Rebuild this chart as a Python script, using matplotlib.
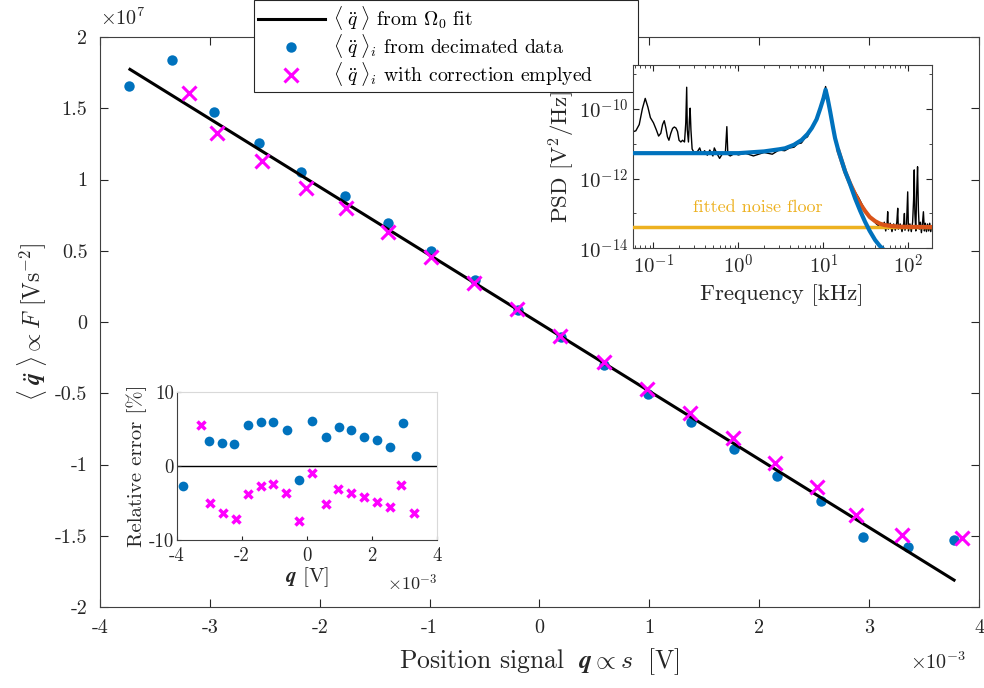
import numpy as np
import matplotlib
matplotlib.use("Agg")
import matplotlib.pyplot as plt
from matplotlib.ticker import FuncFormatter, FixedLocator, LogLocator, NullFormatter

plt.rcParams['font.family'] = 'cmr10'
plt.rcParams['mathtext.fontset'] = 'cm'
plt.rcParams['axes.unicode_minus'] = False

# ---- main data (q in mV, <q''> in 1e6 V/s^2) ----
q_dec = [-3.734, -3.345, -2.961, -2.552, -2.166, -1.773, -1.379, -0.991, -0.591, -0.197,
         0.197, 0.591, 0.985, 1.379, 1.773, 2.166, 2.561, 2.948, 3.357, 3.773]
a_dec = [16.58, 18.36, 14.72, 12.58, 10.55, 8.84, 6.93, 4.96, 2.95, 0.84,
         -1.03, -3.02, -5.05, -7.04, -8.93, -10.78, -12.58, -15.09, -15.77, -15.30]
q_cor = [-3.191, -2.934, -2.525, -2.127, -1.764, -1.375, -0.991, -0.597, -0.203, 0.191,
         0.585, 0.979, 1.370, 1.757, 2.139, 2.530, 2.879, 3.303, 3.848]
a_cor = [16.05, 13.28, 11.30, 9.42, 8.02, 6.34, 4.54, 2.72, 0.89, -0.98,
         -2.83, -4.70, -6.41, -8.16, -9.87, -11.56, -13.54, -14.95, -15.18]
q_fit = [-3.727, 3.773]
a_fit = [17.73, -18.11]

# ---- relative error inset (q in mV, error in %) ----
q_err_dec = [-3.80, -3.02, -2.61, -2.23, -1.82, -1.42, -1.03, -0.61, -0.24,
             0.16, 0.57, 0.97, 1.36, 1.76, 2.16, 2.56, 2.95, 3.36]
err_dec = [-2.62, 3.43, 3.20, 3.02, 5.51, 5.96, 5.96, 4.83, -1.94,
           6.09, 3.97, 5.28, 4.92, 3.97, 3.48, 2.57, 5.87, 1.31]
q_err_cor = [-3.27, -2.99, -2.58, -2.18, -1.80, -1.41, -1.03, -0.63, -0.24,
             0.15, 0.57, 0.96, 1.36, 1.75, 2.15, 2.54, 2.89, 3.30]
err_cor = [5.51, -5.01, -6.37, -7.09, -3.79, -2.66, -2.44, -3.61, -7.49,
           -0.99, -5.10, -3.12, -3.57, -4.20, -4.92, -5.55, -2.53, -6.37]

# ---- PSD inset (f in kHz, log10 PSD in V^2/Hz) ----
f_psd = [0.055, 0.062, 0.068, 0.074, 0.080, 0.086, 0.092, 0.100, 0.108, 0.115, 0.122, 0.128,
         0.134, 0.140, 0.146, 0.152, 0.160, 0.168, 0.176, 0.184, 0.192, 0.200, 0.210, 0.220,
         0.232, 0.240, 0.246, 0.250, 0.258, 0.265, 0.270, 0.276, 0.285, 0.30, 0.33, 0.35,
         0.37, 0.40, 0.43, 0.46, 0.50, 0.52, 0.55, 0.60, 0.65, 0.70, 0.73, 0.75, 0.80, 0.90,
         1.0, 1.2, 1.5, 2.0, 2.5, 3.0, 3.5, 4.0, 4.5, 5.0, 5.5, 6.0, 6.5, 7.0, 8.0, 9.0,
         10.0, 10.6, 11.2, 12.0, 13.0, 14.0, 15.0, 17.0, 19.0, 21.0, 23.6, 26.0, 30.0, 34.0,
         38.0, 42.0, 46.0, 50.0, 52.0, 54.0, 56.0, 57.0, 58.0, 61.0, 64.0, 67.0, 70.0, 73.0,
         74.8, 76.0, 80.0, 84.0, 88.0, 89.6, 91.0, 95.0, 98.0, 100.0, 104.0, 108.0, 112.0,
         115.0, 117.0, 119.0, 122.0, 125.0, 128.0, 131.0, 134.0, 138.0, 142.0, 146.0, 150.0,
         154.0, 158.0, 163.0, 168.0, 173.0, 178.0, 183.0, 188.0]
p_psd = [-10.67, -10.63, -10.45, -10.00, -9.70, -9.95, -10.25, -10.40, -10.60, -10.78, -10.70, -10.45,
         -10.34, -10.55, -10.80, -10.90, -10.70, -10.56, -10.52, -10.55, -10.65, -10.90, -10.95, -10.90,
         -10.95, -10.40, -9.38, -10.60, -10.95, -10.30, -9.98, -10.60, -11.15, -11.25, -11.22, -11.12,
         -11.30, -11.20, -11.33, -11.18, -11.35, -11.12, -11.25, -11.42, -11.28, -11.30, -10.51, -11.30, -11.35, -11.28,
         -11.32, -11.27, -11.35, -11.25, -11.30, -11.18, -11.20, -11.12, -11.10, -11.00, -10.98, -10.85, -10.80, -10.62, -10.38, -10.02,
         -9.62, -9.36, -9.65, -10.10, -10.55, -10.95, -11.23, -11.60, -11.90, -12.15, -12.38, -12.55, -12.85, -13.05,
         -13.18, -13.30, -13.38, -13.38, -13.25, -13.50, -13.30, -12.95, -13.45, -13.28, -13.52, -13.30, -13.48, -13.25,
         -12.85, -13.45, -13.30, -13.52, -13.28, -13.00, -13.48, -13.30, -12.38, -13.50, -13.30, -13.52, -13.25,
         -12.60, -11.75, -13.00, -13.50, -12.40, -11.66, -12.90, -13.45, -13.25, -13.55, -13.30, -12.95,
         -13.50, -13.28, -13.52, -13.30, -13.50, -13.28, -13.52, -13.35]
f_lor = [0.055, 1.0, 2.0, 3.0, 3.54, 4.5, 5.55, 6.5, 7.3, 8.3, 9.2, 10.0, 10.6, 11.2, 12.0,
         13.0, 13.7, 15.0, 18.0, 20.5, 23.6, 27.0, 30.9, 35.0, 40.5, 46.0, 52.0]
p_lor = [-11.27, -11.27, -11.22, -11.16, -11.13, -11.03, -10.89, -10.72, -10.55, -10.30, -9.98, -9.70,
         -9.45, -9.70, -10.08, -10.55, -10.84, -11.20, -11.80, -12.15, -12.57, -12.92, -13.24, -13.50,
         -13.76, -13.93, -14.05]
f_tot = [15.0, 18.0, 20.5, 23.6, 27.0, 30.9, 35.0, 40.5, 46.0, 52.0, 63.6, 80.0, 188.0]
p_tot = [-11.20, -11.80, -12.13, -12.45, -12.72, -12.93, -13.10, -13.22, -13.29, -13.33, -13.36,
         -13.38, -13.39]
f_floor = [0.055, 188.0]
p_floor = [-13.40, -13.40]

blau = '#0072BD'
magenta = '#FF00FF'
orange = '#D95319'
gelb = '#EDB120'
grau = '#262626'

fig = plt.figure(figsize=(9.84, 6.88), dpi=100)

# ---------------- main axes ----------------
ax = fig.add_axes([0.1016, 0.1177, 0.8933, 0.8285])
ln, = ax.plot(np.array(q_fit) * 1e-3, np.array(a_fit) * 1e6, color='k', lw=2.2, zorder=3)
pd_, = ax.plot(np.array(q_dec) * 1e-3, np.array(a_dec) * 1e6, 'o', color=blau, ms=7.5,
               mec='none', zorder=2)
pc_, = ax.plot(np.array(q_cor) * 1e-3, np.array(a_cor) * 1e6, 'x', color=magenta, ms=10,
               mew=2.2, zorder=4)
ax.set_xlim(-4e-3, 4e-3)
ax.set_ylim(-2e7, 2e7)
ax.xaxis.set_major_locator(FixedLocator(np.arange(-4, 5) * 1e-3))
ax.yaxis.set_major_locator(FixedLocator(np.arange(-2, 2.5, 0.5) * 1e7))
ax.xaxis.set_major_formatter(FuncFormatter(lambda v, p: '%g' % round(v * 1e3, 6)))
ax.yaxis.set_major_formatter(FuncFormatter(lambda v, p: '%g' % round(v / 1e7, 6)))
ax.tick_params(direction='in', length=6, width=0.8, colors=grau, labelsize=14.5,
               top=True, right=True, pad=9)
for s in ax.spines.values():
    s.set_color('#404040')
    s.set_linewidth(0.8)
ax.set_xlabel(r'Position signal $\;\boldsymbol{q} \propto s\;$ [V]', fontsize=18.5, color=grau,
              labelpad=6)
ax.set_ylabel(r'$\langle\;\ddot{\boldsymbol{q}}\;\rangle \propto F$ [Vs$^{-2}$]', fontsize=17,
              color=grau, labelpad=4)
fig.text(0.1016, 0.958, r'$\times10^{7}$', fontsize=14.5, color=grau, ha='left', va='bottom')
fig.text(0.982, 0.022, r'$\times10^{-3}$', fontsize=14.5, color=grau, ha='right', va='bottom')

leg = ax.legend([ln, pd_, pc_],
                [r'$\langle\;\ddot{q}\;\rangle$ from $\Omega_0$ fit',
                 r'$\langle\;\ddot{q}\;\rangle_i$ from decimated data',
                 r'$\langle\;\ddot{q}\;\rangle_i$ with correction emplyed'],
                loc='upper left', bbox_to_anchor=(254 / 984, 1 - 80 / 688, 384 / 984, 80 / 688),
                bbox_transform=fig.transFigure, mode='expand',
                fontsize=14.2, fancybox=False, framealpha=1, edgecolor=grau, handlelength=3.4,
                handletextpad=0.4, labelspacing=0.0, borderpad=0.2, borderaxespad=0.0)
leg.get_frame().set_linewidth(0.8)
leg.set_zorder(10)

# ---------------- PSD inset ----------------
axp = fig.add_axes([0.643, 0.639, 0.3039, 0.2664])
axp.plot(f_psd, 10 ** np.array(p_psd), color='k', lw=1.0, zorder=2)
axp.plot(f_floor, 10 ** np.array(p_floor), color=gelb, lw=2.5, zorder=3)
axp.plot(f_tot, 10 ** np.array(p_tot), color=orange, lw=3, zorder=3)
axp.plot(f_lor, 10 ** np.array(p_lor), color=blau, lw=3, zorder=4)
axp.set_xscale('log')
axp.set_yscale('log')
axp.set_xlim(0.057, 188)
axp.set_ylim(1e-14, 1.8e-9)
axp.xaxis.set_major_locator(FixedLocator([0.1, 1, 10, 100]))
axp.xaxis.set_major_formatter(FuncFormatter(lambda v, p: r'$10^{%d}$' % round(np.log10(v))))
axp.xaxis.set_minor_locator(LogLocator(base=10, subs=np.arange(2, 10)))
axp.xaxis.set_minor_formatter(NullFormatter())
axp.yaxis.set_major_locator(FixedLocator([1e-14, 1e-12, 1e-10]))
axp.yaxis.set_major_formatter(FuncFormatter(lambda v, p: r'$10^{%d}$' % round(np.log10(v))))
axp.yaxis.set_minor_locator(FixedLocator([1e-13, 1e-11, 1e-9]))
axp.yaxis.set_minor_formatter(NullFormatter())
axp.tick_params(which='both', direction='in', colors=grau, labelsize=15, top=True, right=True)
axp.tick_params(which='major', length=4)
axp.tick_params(which='minor', length=2)
for s in axp.spines.values():
    s.set_color('#404040')
    s.set_linewidth(0.8)
axp.set_xlabel('Frequency [kHz]', fontsize=16.5, color=grau, labelpad=5)
axp.set_ylabel(r'PSD [V$^2$/Hz]', fontsize=16.5, color=grau, labelpad=1)
axp.text(1.67, 10 ** -12.82, 'fitted noise floor', color=gelb, fontsize=13,
         ha='center', va='center')

# ---------------- relative error inset ----------------
axe = fig.add_axes([0.1796, 0.2151, 0.2648, 0.2147])
axe.axhline(0, color='k', lw=1.0, zorder=1)
axe.plot(np.array(q_err_dec) * 1e-3, err_dec, 'o', color=blau, ms=7, mec='none', zorder=2)
axe.plot(np.array(q_err_cor) * 1e-3, err_cor, 'x', color=magenta, ms=6, mew=2.5, zorder=3)
axe.set_xlim(-4e-3, 4e-3)
axe.set_ylim(-10, 10)
axe.xaxis.set_major_locator(FixedLocator(np.arange(-4, 5, 2) * 1e-3))
axe.xaxis.set_major_formatter(FuncFormatter(lambda v, p: '%g' % round(v * 1e3, 6)))
axe.yaxis.set_major_locator(FixedLocator([-10, 0, 10]))
axe.tick_params(direction='in', length=3, colors=grau, labelsize=13.5)
axe.tick_params(axis='x', pad=5)
axe.tick_params(axis='y', pad=2)
axe.spines['left'].set_color('#404040')
axe.spines['bottom'].set_color('#404040')
axe.spines['top'].set_color('#d9d9d9')
axe.spines['right'].set_color('#d9d9d9')
axe.set_xlabel(r'$\boldsymbol{q}$ [V]', fontsize=15, color=grau, labelpad=0)
axe.set_ylabel('Relative error [%]', fontsize=15, color=grau, labelpad=1)
axe.text(1.0, -0.22, r'$\times10^{-3}$', transform=axe.transAxes, fontsize=13, color=grau,
         ha='right', va='top')

fig.savefig('out.png', dpi=100)
